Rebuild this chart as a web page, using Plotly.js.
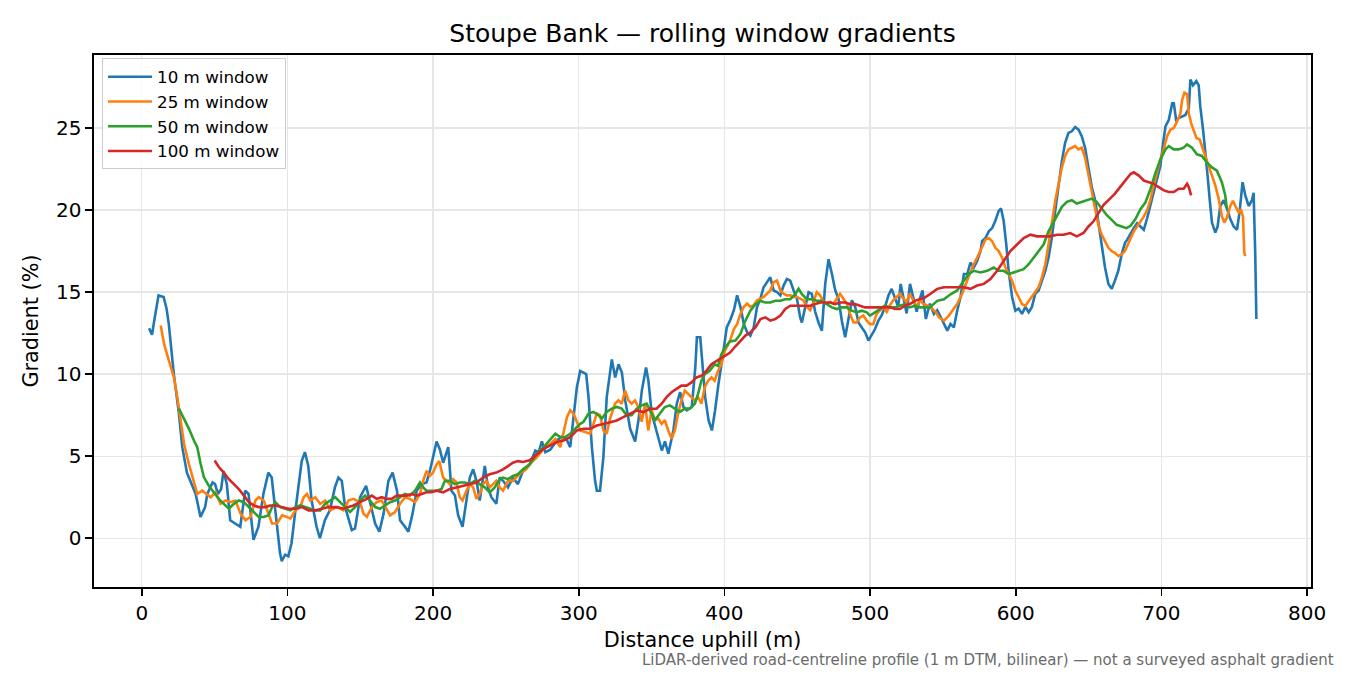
<!DOCTYPE html>
<html>
<head>
<meta charset="utf-8">
<script src="https://cdn.plot.ly/plotly-3.0.1.min.js"></script>
<style>
  html, body { margin: 0; padding: 0; background: #fff; }
  #chart { width: 1350px; height: 675px; }
</style>
</head>
<body>
<div id="chart"></div>
<script>
// distance uphill (m) and gradient (%) for each rolling window
const dist10 = [5,7,9,11.5,15,17,18.5,20,22,25.5,27.8,31,33.5,37,40.3,43.5,45,48.6,50.3,52.3,54.5,56.1,58.4,60.7,64.1,67.6,71,73.3,76.7,80.1,83.5,86.9,89.2,91.5,94.9,96.1,98.4,100.6,102.8,105.2,107.5,109.8,112,114.3,116.6,120,122.3,125.7,129.1,132.6,
  135,137.3,139.6,144.2,146.4,149.9,154,156.8,160.2,163.1,166,169.3,172.2,175.2,177.3,180.7,183,185.9,188.7,192.1,195.5,197.8,200,202.4,204.7,206.9,210.4,212.6,215,217.2,220.2,222.9,225.2,227.5,229.8,232,235.5,237.7,240,243.4,245.7,248,251.4,254.8,258.2,261.7,266.3,
  270.2,272.5,274.7,277,280.4,285,288.4,291.8,294.1,296.4,298.7,301,303.3,305.1,306.7,309,311.2,312.4,314.6,316.9,319.2,322.7,325,327.3,329.6,331.9,335.3,338.7,341,343.3,346.2,347.8,350.1,353.5,357,359.2,361.5,365,367.3,369.6,371.9,374.2,377.6,380,381.1,383.4,385.2,386.8,389.1,391.4,393.6,395.9,399.3,401.6,404,
  406.5,408.7,411,413.3,415.6,417.8,420.1,422.4,424.7,426.9,429.2,431.5,433.8,436.1,438.4,440.6,442.9,445.2,447.5,449.8,452,453.2,455.5,457.8,460,462.3,464.6,466.9,469.2,471.5,473.8,476.1,478.3,480.6,482.9,485.2,487.5,489.8,492,494.3,496.6,498.9,501.2,503.4,505.7,508,510.3,512.6,514.8,517.1,519.3,521,522.8,525.1,527.4,529.6,532,534.2,536,538.3,541,
  543.8,546.1,548.4,550.7,553,555.2,557.5,559.8,562.1,564.4,566.7,568.9,571.2,573.5,575.8,576.9,579.2,581.5,583.8,586,588.3,589.9,591.7,593.5,595.1,597.5,599.7,602,604.3,606.6,608.9,611.1,613.4,615.7,618,620.3,622.5,624.8,627.1,629.4,631.7,633.9,636.2,638.5,640.8,643.1,645.3,647.6,649.9,652.2,654.5,656.7,659,661.3,663.6,665.9,668.1,670.4,672.7,675,
  676.5,678.8,681,683.3,685.6,687.9,690.2,692.4,694.7,697,699.3,701.2,702.8,705.1,707.4,708.5,710.1,711.9,714.2,716.5,718.8,719.9,721.7,724,725.6,726.7,728.6,730.1,731.7,733.1,734.7,737,738.6,740.4,742.7,745,747.3,749.6,751.9,753.7,755.7,757.6,759.9,762.2,763.3,764.4,765.2];
const grad10 = [12.8,12.4,13.5,14.8,14.7,14.0,13.1,11.8,10.0,7.6,5.55,4.0,3.5,2.7,1.3,1.9,2.7,3.4,3.3,2.7,3.0,4.1,3.3,1.1,0.9,0.7,2.9,2.7,-0.1,0.7,2.7,4.0,3.7,1.9,-0.9,-1.4,-1.0,-1.1,-0.3,1.5,3.1,4.7,5.25,4.4,2.3,0.7,0.0,1.1,1.7,3.1,
  3.7,3.5,1.9,0.5,0.6,2.5,3.2,2.1,0.9,0.4,1.5,3.5,4.0,2.9,1.1,0.7,0.4,1.5,2.9,3.3,3.4,4.1,4.9,5.9,5.4,4.6,5.55,2.9,2.6,1.4,0.7,2.3,3.7,4.2,3.5,2.3,4.4,3.1,2.5,2.1,3.7,3.5,3.1,3.7,3.3,4.1,4.5,
  5.35,5.25,5.9,5.25,5.4,5.96,6.2,6.0,5.55,7.2,9.2,10.2,10.1,10.0,8.6,5.55,3.5,2.9,2.9,4.95,8.6,10.9,9.8,10.6,10.1,8.4,6.67,5.9,7.2,9.0,10.4,9.6,7.6,6.4,5.35,5.9,5.15,6.6,8.2,8.9,8.0,7.8,8.0,10.4,12.25,12.25,10.4,8.6,7.2,6.57,7.8,9.4,11.4,12.85,13.3,
  13.9,14.8,14.1,13.05,12.55,12.35,12.85,14.1,14.6,15.3,15.6,15.9,15.1,15.0,14.8,15.4,15.8,15.7,15.1,14.6,13.46,13.15,14.1,15.0,14.9,13.8,13.15,12.65,15.5,17.0,16.1,15.1,14.6,13.26,12.25,13.26,14.5,14.1,13.15,12.85,12.55,12.05,12.45,12.75,13.26,13.6,14.1,14.8,15.2,14.6,14.1,15.5,14.6,13.7,15.5,14.6,13.8,14.6,15.1,13.36,14.3,
  13.67,13.9,13.5,13.06,12.65,13.06,12.85,13.87,14.7,16.1,16.1,16.8,16.5,16.9,17.5,18.1,18.3,18.7,18.9,19.35,19.95,20.1,19.35,17.9,16.3,14.7,13.87,14.0,13.67,14.1,13.77,14.1,14.9,15.1,15.7,16.3,17.1,18.33,19.95,21.6,23.0,24.1,24.7,24.8,25.06,24.9,24.5,23.8,22.6,21.4,20.6,19.3,17.7,16.5,15.5,15.2,15.7,16.3,17.3,18.0,
  18.2,18.6,18.9,19.2,19.0,18.8,19.5,20.25,21.06,21.9,22.7,24.1,25.1,25.5,26.5,26.5,25.5,25.6,25.7,25.8,26.2,27.96,27.6,27.86,27.6,26.3,24.9,23.3,22.1,20.7,19.24,18.63,19.0,20.25,20.6,20.1,19.45,19.0,18.8,19.9,21.7,20.9,20.25,20.6,21.06,17.4,13.36];

const dist25 = [13,15.3,18.7,22.1,24.4,26.7,29,32.4,35.8,38.1,41.5,45,47.3,50.6,54.1,57.5,60.9,64.3,67.8,71.2,74.6,78,80.3,83.7,87.1,89.4,92.9,96.3,99.7,102,105.4,108.8,111.1,113.4,115.7,119.1,122.5,125.9,129.4,
  133.9,138.5,141.9,145.3,149.8,152.2,154.5,157.9,161.3,164.7,168.2,170.5,173.9,177.3,180.7,184.1,187.6,191,193.2,195.5,197.8,200,202.4,204.2,206.9,209.2,211.5,213.8,216,218.3,220.2,222.9,225.2,227.5,229.8,232,234.3,236.6,238.9,241.2,243.4,245.7,248,251.4,254.8,257.1,260.5,263.9,266.3,
  271.3,275.9,280.5,283.9,287.3,289.6,291.9,294.1,296.4,298.7,301,304.4,307.8,310.1,312.4,314.6,316.9,319.2,321.5,324.9,327.2,329.5,331.8,334.1,336.3,338.6,340.9,343.2,345.5,347.7,350,352.3,354.6,356.9,359.1,361.4,363.7,366,368.2,370.5,372.8,375.1,377.4,379.7,381.9,384.2,386.5,388.8,391.1,393.3,395.6,397.9,400.2,403.7,
  406.5,408.7,411,413.3,415.6,417.8,420.1,422.4,424.7,426.9,429.2,431.5,433.8,436.1,438.4,440.6,442.9,445.2,447.5,449.8,452,454.3,456.6,458.9,461.2,463.4,465.7,468,470.3,472.6,474.9,477.2,479.4,481.7,484,486.3,488.6,490.8,493.1,495.4,497.7,500,502.2,504.5,506.8,509.1,511.4,513.6,515.9,518.2,520.5,522.8,525,527.3,529.6,531.9,534.2,536.4,538.7,541,
  545,547.3,550.7,554.1,556.4,559.8,563.2,566.7,570.1,573.5,576.9,579.2,581.5,583.8,586,588.3,590.6,592.9,595.2,597.5,599.7,602,604.3,606.6,608.9,611.1,613.4,615.7,618,620.3,622.5,624.8,627.1,629.4,631.7,633.9,636.2,638.5,640.8,643.1,645.3,647.6,649.9,652.2,654.5,656.7,659,661.3,663.6,665.9,668.1,670.4,672.7,675,
  677.3,678.8,681,683.3,685.6,687.9,690.2,692.4,694.7,697,699.3,701.6,703.9,706.2,708.5,710.8,713.1,714.2,715.8,717.7,718.8,720.4,722.2,724,726.3,727.9,730.2,732.5,734.7,737,739.3,741.6,743.2,745,747.3,749.1,750.7,753,754.6,756,756.9,757.6];
const grad25 = [12.96,11.84,10.8,9.8,8.6,7.2,5.76,4.5,3.5,2.7,2.9,2.65,2.5,2.8,2.1,2.3,2.2,2.3,1.5,1.1,1.3,2.3,2.5,2.3,1.5,0.9,0.9,1.4,1.3,1.2,1.7,1.9,2.5,2.7,2.3,2.5,2.1,2.3,1.7,
  1.9,1.7,2.3,2.4,2.2,1.5,1.3,1.9,2.2,2.3,1.7,1.4,1.6,2.1,2.5,2.4,2.2,2.7,3.5,4.1,3.8,4.0,4.5,4.7,3.7,3.5,3.3,3.6,3.4,2.5,2.3,2.9,3.3,3.1,2.4,2.7,3.3,3.5,3.1,3.3,3.5,3.1,2.9,3.5,3.5,3.7,4.0,4.2,4.5,
  4.95,5.45,5.75,6.05,5.55,6.47,7.38,7.8,7.6,7.1,6.57,6.47,6.37,6.97,7.6,7.5,6.57,6.37,7.3,8.2,8.4,8.2,9.0,8.4,8.2,8.4,8.0,7.1,8.2,6.57,7.8,7.2,7.3,6.97,7.2,6.57,6.06,6.57,7.6,8.4,9.0,8.8,8.6,8.4,8.6,8.2,9.2,9.6,9.8,9.6,10.2,10.6,11.4,12.0,
  12.75,13.05,13.67,14.1,14.3,14.1,14.2,14.5,14.6,14.7,14.9,15.1,15.6,15.7,15.1,14.9,14.8,14.8,14.7,14.7,14.6,14.5,14.1,13.9,14.4,15.0,14.8,14.4,14.3,14.4,14.3,14.6,14.9,14.6,14.3,13.67,13.15,13.15,13.46,13.57,13.26,13.05,13.05,13.67,13.87,14.1,13.8,14.2,14.5,14.7,14.9,14.6,14.4,14.9,14.5,14.1,14.5,14.3,14.2,14.1,
  13.8,13.46,13.26,13.57,13.87,14.27,14.9,15.7,16.5,17.1,17.7,18.2,18.3,18.1,17.7,17.5,17.1,16.5,16.1,15.7,15.1,14.7,14.27,14.17,14.47,14.7,15.0,15.3,15.9,16.7,17.9,19.35,20.56,21.6,22.6,23.3,23.7,23.8,23.9,23.7,23.8,23.2,22.2,21.2,20.2,19.1,18.5,18.1,17.7,17.5,17.4,17.2,17.3,17.5,
  18.0,18.3,18.7,19.0,19.3,19.6,20.0,20.6,21.5,22.3,23.1,23.7,24.5,24.9,25.0,25.4,25.9,26.7,27.15,27.05,25.9,25.3,24.8,24.4,24.3,23.9,23.3,22.7,22.1,21.5,20.7,19.6,19.24,19.55,20.25,20.56,20.25,19.85,20.05,19.6,17.4,17.2];

const dist50 = [25.5,29,32.4,35.8,38.1,40.4,42.6,46,49.5,52.9,56.3,59.8,63.2,66.6,70.1,73.5,76.9,80.3,83.7,87.1,89.4,91.7,95.1,98.6,102,105.4,108.8,112.2,115.7,119.1,122.5,125.9,129.3,
  132.8,136.2,139.6,143,146.4,149.9,153.3,156.7,160.2,163.6,167,170.5,173.9,177.3,180.7,184.1,187.6,191,193.2,195.5,199,202.4,205.8,208.1,211.5,214.9,218.3,221.7,225.2,228.6,232,235.4,238.9,242.3,245.7,248,251.4,254.8,258.2,261.7,266.3,
  271.3,275.9,280.5,283.9,287.3,290.7,294.1,297.5,301,303.3,306.7,310.1,313.5,315.8,319.2,322.7,326.1,329.5,332.9,336.3,339.8,343.2,346.6,350,352.3,355.7,359.1,362.6,366,369.4,372.8,376.2,379.7,381.9,384.2,386.5,389.9,393.3,395.6,397.9,400.2,403.7,
  407.6,411,414.4,417.8,421.3,424.7,428.1,431.5,434.9,438.4,441.8,445.2,448.6,450.9,453.2,456.6,460,463.4,466.9,470.3,473.7,477.2,480.6,484,487.4,490.8,494.3,497.7,500,503.4,506.8,510.3,513.7,517.1,520.5,523.9,527.3,530.7,534.2,537.6,541,
  546.1,550.7,555.2,559.8,564.4,567.8,571.2,575.8,580.4,584.9,588.3,591.7,595.2,598.6,602,605.4,608.9,612.3,615.7,619.1,622.5,624.8,628.3,631.7,635.1,638.5,641.9,645.3,648.8,652.2,655.6,659,662.4,665.9,669.3,672.7,676.1,
  678.8,682.2,685.6,689,692.4,695.9,699.3,702.8,705.1,708.5,711.9,715.3,717.6,721,724.4,727.8,731.2,734.7,738.1,741.5,743.8,744.9];
const grad50 = [7.9,7.28,6.67,5.96,5.55,4.54,3.73,3.2,2.8,2.4,2.1,1.8,2.1,2.3,2.2,1.9,1.6,1.3,1.3,1.4,1.9,2.2,1.9,1.8,1.7,1.9,2.0,1.9,1.8,1.7,1.7,2.1,2.3,
  2.5,2.2,1.9,1.6,1.9,2.3,2.6,2.3,1.9,1.8,2.0,2.2,2.3,2.5,2.7,2.6,2.9,3.4,3.1,2.9,2.9,2.9,3.0,3.5,3.5,3.3,3.4,3.4,3.3,3.5,3.3,3.1,2.8,3.1,3.6,3.7,3.6,3.8,3.9,4.2,4.5,
  5.15,5.55,6.06,6.37,6.16,6.16,6.37,6.67,6.97,7.1,7.6,7.7,7.5,7.3,7.7,7.9,8.0,7.9,7.5,7.5,7.9,8.1,8.2,7.6,7.2,7.6,8.0,8.1,7.9,7.7,7.9,7.9,8.2,8.8,9.6,10.0,10.2,10.6,10.5,11.2,11.6,12.0,
  12.05,12.45,13.26,13.87,14.27,14.47,14.37,14.37,14.47,14.47,14.57,14.57,14.87,15.2,14.87,14.57,14.57,14.47,14.47,14.27,14.07,13.97,14.07,14.07,13.87,13.77,13.87,13.77,13.57,13.77,13.97,14.17,14.07,14.07,14.17,14.27,14.07,14.17,14.07,14.07,14.07,
  14.47,14.57,14.87,15.1,15.7,16.1,16.3,16.2,16.3,16.5,16.3,16.3,16.1,16.2,16.3,16.4,16.7,17.1,17.5,17.9,18.7,19.1,19.7,20.2,20.5,20.6,20.4,20.5,20.6,20.7,20.5,20.1,19.7,19.4,19.1,19.0,18.9,
  19.04,19.45,20.05,20.46,21.26,22.27,23.08,23.7,23.9,23.7,23.7,23.8,24.0,23.8,23.4,23.3,22.9,22.6,22.4,21.7,20.9,20.1];

const dist100 = [50,52.9,56.3,59.8,63.2,66.6,70.1,73.5,76.9,80.3,84.8,88.2,91.7,96.3,100.8,105.4,110,114.5,119.1,123.7,128.2,
  133.9,138.5,141.9,145.3,149.9,154.5,157.9,161.3,164.7,168.2,171.6,175,178.4,181.8,185.3,188.7,192.1,195.5,199,202.4,206.9,211.5,216,220.6,225.2,229.8,234.3,238.9,243.4,248,251.4,254.8,258.2,261.7,266.3,
  271.3,275.9,280.5,285,289.6,294.1,298.7,303.3,307.8,312.4,316.9,321.5,326.1,330.6,335.2,339.8,344.3,348.9,353.4,356.9,360.3,363.7,367.1,370.5,374,377.4,380.8,384.2,387.6,391.1,394.5,397.9,401.3,403.7,
  407.6,411,414.4,417.8,421.3,424.7,428.1,431.5,434.9,438.4,441.8,445.2,448.6,452,455.5,458.9,462.3,465.7,469.1,472.6,476,479.4,482.8,486.3,489.7,493.1,496.5,500,503.4,506.8,510.3,513.7,517.1,520.5,523.9,527.3,530.7,534.2,537.6,541,
  546.1,550.7,555.2,559.8,564.4,568.9,573.5,578.1,582.6,587.2,591.8,596.3,600.9,605.5,610,614.6,619.1,623.7,628.3,632.8,637.4,641.9,646.5,649.9,653.3,656.7,660.2,664.7,668.1,671.6,675,
  678.8,681,684.5,687.9,691.3,694.7,698.2,701.7,705.1,708.5,711.9,715.3,717.6,718.8,720.4];
const grad100 = [4.74,4.34,4.0,3.6,3.3,3.0,2.6,2.2,2.0,1.9,1.9,2.0,2.0,1.9,1.8,1.8,1.9,1.7,1.7,1.8,1.9,
  1.9,1.8,1.9,2.0,2.2,2.4,2.6,2.4,2.5,2.4,2.4,2.6,2.6,2.6,2.7,2.6,2.7,2.8,2.8,2.9,2.8,3.0,3.1,3.2,3.3,3.4,3.7,3.9,4.0,4.2,4.4,4.6,4.7,4.65,4.75,
  5.1,5.45,5.66,5.86,5.96,6.16,6.57,6.67,6.67,6.87,6.97,7.08,7.18,7.38,7.58,7.79,7.69,7.89,7.89,8.2,8.6,8.9,9.1,9.3,9.3,9.5,9.8,9.9,10.2,10.6,10.8,11.0,11.2,11.3,
  11.7,12.05,12.35,12.55,12.85,13.36,13.46,13.26,13.36,13.57,13.97,14.17,14.17,14.17,14.17,14.17,14.27,14.37,14.37,14.37,14.27,14.37,14.37,14.27,14.27,14.17,14.07,14.07,14.07,14.07,14.07,14.07,13.97,13.97,14.17,14.27,14.47,14.57,14.67,14.87,
  15.2,15.3,15.3,15.3,15.3,15.2,15.4,15.5,15.8,16.3,16.9,17.5,17.9,18.3,18.5,18.4,18.4,18.4,18.5,18.5,18.6,18.4,18.6,19.0,19.3,19.8,20.3,20.7,21.0,21.4,21.8,
  22.2,22.3,22.1,21.8,21.7,21.6,21.4,21.2,21.1,21.1,21.3,21.3,21.6,21.4,20.9];

const seriesNames = ['10 m window', '25 m window', '50 m window', '100 m window'];
const xTicks = [0, 100, 200, 300, 400, 500, 600, 700, 800];
const yTicks = [0, 5, 10, 15, 20, 25];

const COLORS = ['#1f77b4', '#ff7f0e', '#2ca02c', '#d62728'];
const FONT = 'DejaVu Sans, Liberation Sans, sans-serif';

const xs = [dist10, dist25, dist50, dist100];
const ys = [grad10, grad25, grad50, grad100];

const traces = seriesNames.map((name, i) => ({
  type: 'scatter',
  mode: 'lines',
  name,
  x: xs[i],
  y: ys[i],
  line: { color: COLORS[i], width: 2.6 },
}));

const axisBase = {
  showline: true,
  linecolor: '#000',
  linewidth: 1.6,
  mirror: true,
  ticks: 'outside',
  ticklen: 7,
  tickwidth: 1.6,
  tickcolor: '#000',
  showgrid: true,
  gridcolor: '#e6e6e6',
  gridwidth: 1.4,
  zeroline: false,
  tickfont: { family: FONT, size: 20, color: '#000' },
};

Plotly.newPlot('chart', traces, {
  width: 1350,
  height: 675,
  paper_bgcolor: '#fff',
  plot_bgcolor: '#fff',
  font: { family: FONT, color: '#000' },
  margin: { l: 94, r: 39, t: 55, b: 88 },
  title: {
    text: 'Stoupe Bank — rolling window gradients',
    font: { family: FONT, size: 25, color: '#000' },
    x: 0.5, xref: 'paper', xanchor: 'center',
    y: 1 - 33 / 675, yref: 'container', yanchor: 'middle',
  },
  xaxis: Object.assign({}, axisBase, {
    range: [-32.8, 802.7],
    tickvals: xTicks,
    title: { text: 'Distance uphill (m)', font: { family: FONT, size: 20.8, color: '#000' }, standoff: 9 },
  }),
  yaxis: Object.assign({}, axisBase, {
    range: [-2.97, 29.45],
    tickvals: yTicks,
    title: { text: 'Gradient (%)', font: { family: FONT, size: 20.8, color: '#000' }, standoff: 11 },
  }),
  showlegend: true,
  legend: {
    x: 0.0066, y: 0.9935, xanchor: 'left', yanchor: 'top',
    bgcolor: 'rgba(255,255,255,0.8)',
    bordercolor: '#cccccc',
    borderwidth: 1,
    itemwidth: 44,
    font: { family: FONT, size: 16.7, color: '#000' },
  },
  annotations: [{
    text: 'LiDAR-derived road-centreline profile (1 m DTM, bilinear) — not a surveyed asphalt gradient',
    xref: 'paper', yref: 'paper',
    x: (1336 - 94) / 1216.7, y: (586.7 - 660) / 531.7,
    xanchor: 'right', yanchor: 'middle',
    showarrow: false,
    font: { family: FONT, size: 15, color: '#6b6b6b' },
  }],
}, { displayModeBar: false, staticPlot: true });
</script>
</body>
</html>
